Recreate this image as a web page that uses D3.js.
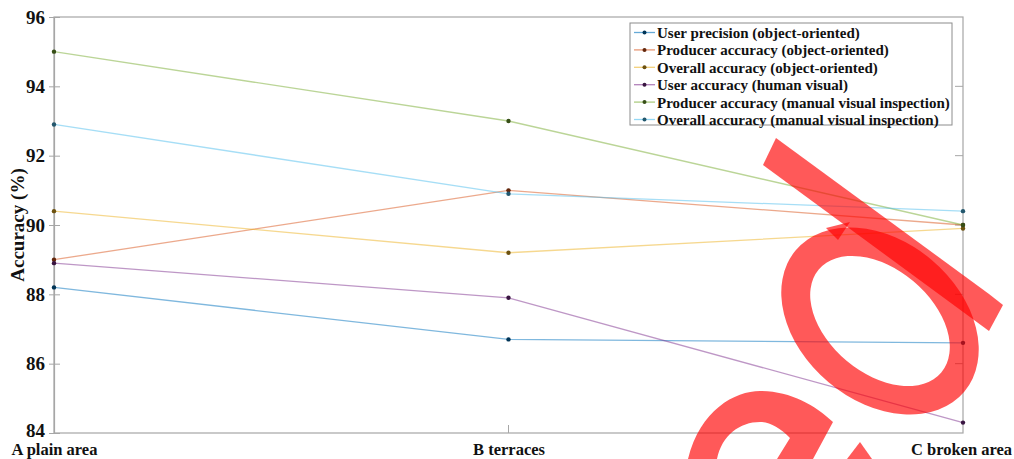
<!DOCTYPE html>
<html>
<head>
<meta charset="utf-8">
<title>Accuracy comparison</title>
<style>
  body { margin: 0; background: #fff; }
  svg { display: block; }
  svg text { font-family: "Liberation Serif", "Times New Roman", Tinos, serif; font-weight: bold; fill: #111; }
</style>
</head>
<body>
<script src="https://d3js.org/d3.v7.min.js"></script>
<div id="container"></div>
<script>
const categories = ["A plain area", "B terraces", "C broken area"];
const yTicks = [84, 86, 88, 90, 92, 94, 96];

const seriesNames = [
  "User precision (object-oriented)",
  "Producer accuracy (object-oriented)",
  "Overall accuracy (object-oriented)",
  "User accuracy (human visual)",
  "Producer accuracy (manual visual inspection)",
  "Overall accuracy (manual visual inspection)"
];
const userPrecisionOO   = [88.2, 86.7, 86.6];
const producerAccOO     = [89.0, 91.0, 90.0];
const overallAccOO      = [90.4, 89.2, 89.9];
const userAccVisual     = [88.9, 87.9, 84.3];
const producerAccManual = [95.0, 93.0, 90.0];
const overallAccManual  = [92.9, 90.9, 90.4];
const colors = ["#0072BD", "#D95319", "#EDB120", "#7E2F8E", "#77AC30", "#4DBEEE"];

const series = [userPrecisionOO, producerAccOO, overallAccOO, userAccVisual, producerAccManual, overallAccManual];

const width = 1014, height = 459,
      margin = { top: 17, right: 51, bottom: 26, left: 54 };

const svg = d3.select("#container").append("svg")
    .attr("width", width)
    .attr("height", height);

const x = d3.scalePoint()
    .domain(categories)
    .range([margin.left, width - margin.right]);

const y = d3.scaleLinear()
    .domain([84, 96])
    .range([height - margin.bottom, margin.top]);

// frame
svg.append("rect")
    .attr("x", margin.left).attr("y", margin.top)
    .attr("width", width - margin.left - margin.right)
    .attr("height", height - margin.top - margin.bottom)
    .attr("fill", "none").attr("stroke", "#a6a6a6").attr("stroke-width", 1.2);

// left axis
const yAxis = svg.append("g")
    .attr("transform", `translate(${margin.left},0)`)
    .call(d3.axisLeft(y).tickValues(yTicks).tickSize(5).tickPadding(4));
yAxis.attr("font-family", null).attr("font-size", null);
yAxis.select(".domain").attr("stroke", "#a6a6a6").attr("stroke-width", 1.2);
yAxis.selectAll(".tick line").attr("stroke", "#a6a6a6").attr("x2", -5).attr("x1", 6);
yAxis.selectAll(".tick text")
    .style("font-size", "19px");
// lowest label sits just above the first category name
yAxis.selectAll(".tick text")
    .filter(d => d === yTicks[0])
    .attr("y", -3);

// right side inner ticks
svg.append("g").selectAll("line")
    .data(yTicks.slice(1, -1))
    .enter().append("line")
    .attr("x1", width - margin.right - 8).attr("x2", width - margin.right)
    .attr("y1", d => y(d)).attr("y2", d => y(d))
    .attr("stroke", "#a6a6a6");

// bottom axis
const xAxis = svg.append("g")
    .attr("transform", `translate(0,${height - margin.bottom})`)
    .call(d3.axisBottom(x).tickSize(0).tickPadding(10));
xAxis.attr("font-family", null).attr("font-size", null);
xAxis.select(".domain").remove();
xAxis.selectAll(".tick text")
    .style("font-size", "16.5px");
xAxis.selectAll(".tick text")
    .filter(d => d === categories[2])
    .attr("dx", -2);
svg.append("line")
    .attr("x1", x(categories[1])).attr("x2", x(categories[1]))
    .attr("y1", height - margin.bottom).attr("y2", height - margin.bottom - 8)
    .attr("stroke", "#a6a6a6");

// y title
svg.append("text")
    .attr("text-anchor", "middle")
    .attr("transform", `translate(24,${(margin.top + height - margin.bottom) / 2})rotate(-90)`)
    .style("font-size", "19px")
    .text("Accuracy (%)");

// lines
const line = d3.line()
    .x((d, i) => x(categories[i]))
    .y(d => y(d));

series.forEach((s, k) => {
  svg.append("path")
      .datum(s)
      .attr("d", line)
      .attr("fill", "none")
      .attr("stroke", colors[k])
      .attr("stroke-opacity", 0.5)
      .attr("stroke-width", 1.3);
});
series.forEach((s, k) => {
  svg.append("g").selectAll("circle")
      .data(s)
      .enter().append("circle")
      .attr("cx", (d, i) => x(categories[i]))
      .attr("cy", d => y(d))
      .attr("r", 2.2)
      .attr("fill", d3.color(colors[k]).darker(2.2));
});

// legend
const legend = svg.append("g").attr("transform", "translate(630,23)");
legend.append("rect")
    .attr("width", 322).attr("height", 102)
    .attr("fill", "#fff").attr("stroke", "#8c8c8c");
seriesNames.forEach((name, k) => {
  const row = legend.append("g").attr("transform", `translate(0,${9.5 + k * 17.4})`);
  row.append("line")
      .attr("x1", 4).attr("x2", 25)
      .attr("stroke", colors[k]).attr("stroke-opacity", 0.6).attr("stroke-width", 1.3);
  row.append("circle")
      .attr("cx", 14.5).attr("r", 2)
      .attr("fill", d3.color(colors[k]).darker(2.2));
  row.append("text")
      .attr("x", 27).attr("y", 5.5)
      .style("font-size", "15px")
      .text(name);
});

// red overlay mark
const mark = svg.append("g").attr("fill", "#ff0000").attr("fill-opacity", 0.65);
mark.append("path")
    .attr("d", "M776,138 L989,294 L1003,305 L989,331 L763,165 Z");
const el = (a, b) => `M${-a},0 A${a},${b} 0 1,0 ${a},0 A${a},${b} 0 1,0 ${-a},0 Z`;
mark.append("path")
    .attr("fill-rule", "evenodd")
    .attr("transform", "translate(880,321)rotate(40)")
    .attr("d", el(110, 80) + " " + el(80, 52));
mark.append("path")
    .attr("d", "M826,228 L850,222 L838,240 Z");
mark.append("path")
    .attr("d", "M688,459 C700,410 735,391 760,391 C790,391 815,405 833,422 L813,459 L777,459 L790,438 C780,428 770,422 760,422 C740,422 722,435 717,459 Z");
mark.append("path")
    .attr("d", "M860,442 L872,459 L847,459 Z");
</script>
</body>
</html>
